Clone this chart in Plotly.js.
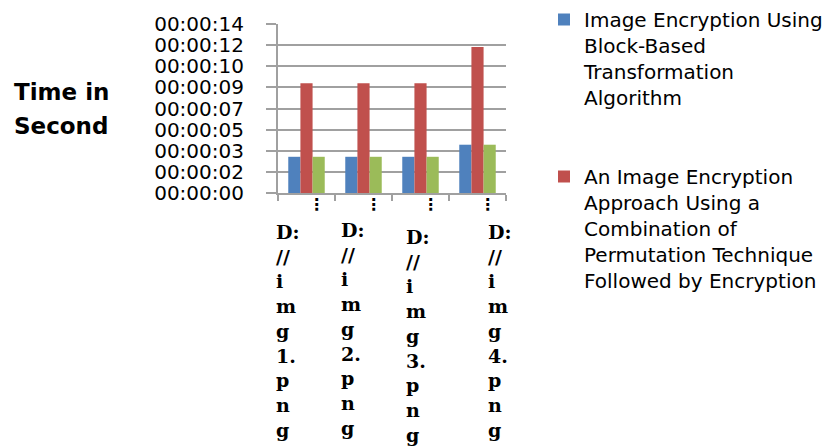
<!DOCTYPE html>
<html>
<head>
<meta charset="utf-8">
<script src="https://cdn.plot.ly/plotly-3.0.1.min.js"></script>
<style>html,body{margin:0;padding:0;background:#fff;}#chart{width:836px;height:447px;}</style>
</head>
<body>
<div id="chart"></div>
<script>
const categories = ["D://img1.png", "D://img2.png", "D://img3.png", "D://img4.png"];
const blueValues = [3.0, 3.0, 3.0, 4.0];
const redValues = [9.1, 9.1, 9.1, 12.1];
const greenValues = [3.0, 3.0, 3.0, 4.0];
const seriesNames = [
  ["Image Encryption Using", "Block-Based", "Transformation", "Algorithm"],
  ["An Image Encryption", "Approach Using a", "Combination of", "Permutation Technique", "Followed by Encryption"],
  ["Series3"]
];
const yTickVals = [0, 1.75, 3.5, 5.25, 7, 8.75, 10.5, 12.25, 14];
const yTickText = ["00:00:00", "00:00:02", "00:00:03", "00:00:05", "00:00:07", "00:00:09", "00:00:10", "00:00:12", "00:00:14"];
const yTitleLines = ["Time in", "Second"];

const colors = ["#4F81BD", "#C0504D", "#9BBB59"];
const values = [blueValues, redValues, greenValues];

const traces = values.map((v, i) => ({
  type: "bar",
  x: categories,
  y: v,
  name: seriesNames[i].join("<br>"),
  legendgroup: "g" + i,
  showlegend: i < 2,
  marker: {color: colors[i], line: {width: 0}},
  hoverinfo: "skip"
}));

// wrap category labels into a vertical column like the original
function wrapLabel(s) {
  return s.match(/D:|\/\/|\d\.|./g).join("<br>");
}
const labelShifts = [-33, -25, -17, 8];
const labelTops = [-26, -24, -31, -26];

const annotations = categories.map((c, i) => ({
  x: c, xref: "x", y: 0, yref: "paper",
  xanchor: "left", yanchor: "top", align: "left",
  xshift: labelShifts[i], yshift: labelTops[i],
  text: wrapLabel(c), showarrow: false,
  font: {family: "DejaVu Serif", size: 19, color: "#000", weight: "bold"}
}));
const L = 278, R = 330, T = 24, B = 254;
const pw = 836 - L - R, ph = 447 - T - B;
yTitleLines.forEach((t, i) => {
  annotations.push({
    x: (12 - L) / pw, xref: "paper", xanchor: "left",
    y: (447 - B - [92, 126][i]) / ph, yref: "paper", yanchor: "middle",
    text: t, showarrow: false,
    font: {family: "DejaVu Sans", size: 23, color: "#000", weight: "bold"}
  });
});

const layout = {
  width: 836, height: 447,
  margin: {l: L, r: R, t: T, b: B, pad: 0, autoexpand: false},
  paper_bgcolor: "#fff", plot_bgcolor: "#fff",
  barmode: "group", bargap: 0.36, bargroupgap: 0,
  showlegend: true,
  legend: {
    x: (544 - L) / pw, xanchor: "left",
    y: (447 - B) / ph, yanchor: "top",
    traceorder: "grouped", tracegroupgap: 50,
    valign: "top", maxheight: 447,
    font: {family: "DejaVu Sans", size: 20, color: "#000"},
    bgcolor: "rgba(0,0,0,0)"
  },
  xaxis: {
    type: "category",
    range: [-0.5, categories.length - 0.5],
    tickmode: "array", tickvals: categories, ticktext: categories.map(() => "⋮"),
    tickson: "boundaries", ticks: "outside", ticklen: 6, tickwidth: 2, tickcolor: "#a0a0a0",
    ticklabelshift: 10, ticklabelstandoff: -4,
    tickfont: {family: "DejaVu Sans", size: 16, color: "#000", weight: "bold"},
    showline: true, linecolor: "#a0a0a0", linewidth: 2,
    showgrid: false, zeroline: false, fixedrange: true
  },
  yaxis: {
    range: [0, 14],
    tickmode: "array", tickvals: yTickVals, ticktext: yTickText,
    ticks: "outside", ticklen: 10, tickwidth: 2, tickcolor: "#a0a0a0",
    ticklabelstandoff: 18,
    tickfont: {family: "DejaVu Sans", size: 20, color: "#000"},
    showline: true, linecolor: "#a0a0a0", linewidth: 2,
    showgrid: true, gridcolor: "#a0a0a0", gridwidth: 2,
    zeroline: false, fixedrange: true
  },
  annotations: annotations
};

Plotly.newPlot("chart", traces, layout, {staticPlot: true, displayModeBar: false});
</script>
</body>
</html>
